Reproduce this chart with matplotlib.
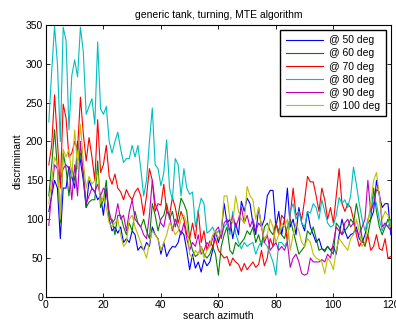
import numpy as np
import matplotlib
matplotlib.use('Agg')
import matplotlib.pyplot as plt

plt.rcParams['font.family'] = ['Liberation Sans', 'DejaVu Sans']

azimuth = np.arange(1, 121)

deg50 = [110, 130, 150, 140, 75, 140, 140, 168, 155, 140, 200, 175, 150, 115, 150, 140, 135, 125, 130, 105,
         140, 100, 85, 90, 82, 90, 70, 75, 70, 85, 80, 60, 65, 60, 70, 65, 90, 80, 75, 55,
         70, 52, 60, 65, 64, 70, 85, 80, 60, 35, 55, 37, 45, 32, 48, 40, 45, 60, 85, 70,
         85, 120, 95, 100, 75, 95, 80, 123, 110, 127, 120, 95, 80, 115, 90, 100, 130, 137, 137, 90,
         110, 80, 100, 140, 90, 100, 80, 115, 95, 85, 110, 90, 80, 70, 75, 62, 60, 65, 60, 65,
         55, 80, 100, 85, 75, 80, 82, 90, 75, 70, 80, 95, 100, 110, 150, 130, 115, 120, 120, 80]
deg60 = [130, 170, 215, 165, 95, 185, 165, 130, 165, 150, 175, 185, 160, 115, 122, 125, 125, 175, 115, 125,
         150, 100, 100, 80, 105, 105, 90, 80, 95, 85, 110, 95, 90, 100, 85, 75, 120, 105, 85, 100,
         105, 120, 100, 110, 90, 105, 127, 120, 110, 75, 60, 52, 55, 65, 55, 50, 55, 65, 55, 28,
         65, 80, 90, 60, 55, 70, 65, 70, 75, 85, 80, 90, 70, 80, 65, 90, 95, 85, 80, 95,
         85, 80, 75, 90, 100, 85, 70, 55, 60, 65, 85, 80, 90, 75, 60, 62, 58, 65, 60, 55,
         95, 90, 80, 85, 90, 100, 95, 120, 100, 75, 65, 80, 100, 140, 110, 90, 80, 90, 100, 90]
deg70 = [170, 195, 260, 200, 140, 248, 230, 180, 185, 200, 190, 257, 210, 175, 205, 180, 150, 228, 160, 170,
         195, 155, 145, 158, 140, 135, 125, 138, 130, 125, 135, 140, 130, 105, 130, 165, 150, 110, 120, 118,
         145, 110, 105, 128, 115, 95, 110, 100, 80, 75, 95, 75, 112, 70, 85, 60, 72, 65, 75, 60,
         55, 50, 52, 40, 50, 45, 42, 33, 43, 35, 40, 45, 38, 42, 60, 40, 50, 75, 65, 95,
         80, 105, 100, 70, 105, 140, 105, 110, 100, 125, 155, 148, 148, 130, 110, 140, 125, 100, 115, 95,
         130, 165, 120, 110, 120, 115, 100, 80, 65, 72, 68, 80, 60, 65, 80, 62, 60, 75, 50, 52]
deg80 = [225, 290, 348, 300, 200, 347, 330, 215, 285, 305, 283, 347, 315, 235, 245, 255, 222, 328, 242, 235,
         245, 200, 185, 200, 212, 190, 173, 178, 178, 195, 180, 195, 165, 130, 150, 200, 243, 170, 165, 143,
         160, 202, 140, 125, 178, 170, 130, 165, 140, 132, 135, 90, 110, 127, 120, 82, 85, 90, 80, 85,
         78, 90, 95, 80, 110, 82, 70, 62, 70, 65, 68, 70, 55, 65, 72, 70, 65, 55, 45, 28,
         70, 70, 65, 72, 110, 120, 100, 110, 95, 90, 110, 108, 120, 115, 100, 125, 110, 95, 90, 92,
         105, 128, 120, 125, 115, 130, 167, 145, 120, 100, 85, 100, 110, 130, 120, 100, 85, 95, 90, 100]
deg90 = [92, 135, 170, 165, 150, 165, 170, 165, 125, 170, 130, 200, 155, 120, 130, 140, 135, 145, 130, 140,
         135, 110, 95, 100, 120, 100, 105, 85, 110, 125, 100, 95, 90, 80, 75, 105, 150, 120, 110, 95,
         90, 110, 105, 85, 100, 90, 80, 95, 75, 60, 70, 65, 80, 55, 60, 70, 65, 75, 85, 90,
         75, 95, 100, 85, 105, 90, 100, 115, 95, 105, 90, 100, 85, 95, 90, 70, 80, 60, 65, 70,
         60, 65, 60, 70, 38, 50, 55, 45, 30, 28, 30, 50, 45, 45, 45, 48, 45, 55, 50, 70,
         90, 85, 80, 95, 100, 90, 95, 85, 80, 90, 100, 150, 110, 120, 138, 135, 90, 95, 90, 85]
deg100 = [120, 150, 180, 170, 100, 190, 180, 190, 155, 215, 165, 222, 175, 140, 155, 145, 150, 160, 120, 130,
          115, 95, 90, 95, 100, 80, 65, 70, 100, 105, 90, 80, 70, 60, 50, 70, 85, 80, 75, 60,
          70, 80, 95, 90, 80, 85, 100, 105, 95, 55, 50, 60, 55, 65, 50, 60, 65, 80, 85, 75,
          85, 130, 130, 100, 95, 130, 110, 100, 95, 142, 130, 125, 100, 115, 90, 75, 80, 100, 90, 70,
          80, 95, 90, 100, 60, 80, 95, 85, 70, 65, 75, 70, 55, 50, 48, 45, 30, 50, 45, 35,
          60, 75, 70, 65, 60, 75, 80, 100, 85, 65, 70, 95, 120, 150, 160, 130, 100, 110, 105, 90]

series = [deg50, deg60, deg70, deg80, deg90, deg100]
labels = ['@ 50 deg', '@ 60 deg', '@ 70 deg', '@ 80 deg', '@ 90 deg', '@ 100 deg']
colors = ['#0000ff', '#008000', '#ff0000', '#00bfbf', '#bf00bf', '#bfbf00']

fig = plt.figure(figsize=(3.96, 3.27), dpi=100)
ax = fig.add_axes([0.116, 0.092, 0.871, 0.832])
for vals, lab, col in zip(series, labels, colors):
    ax.plot(azimuth, vals, color=col, lw=0.8, label=lab)

ax.set_xlim(0, 120)
ax.set_ylim(0, 350)
ax.set_xticks(range(0, 121, 20))
ax.set_yticks(range(0, 351, 50))
ax.tick_params(direction='in', top=True, right=True, labelsize=7.5, length=3, width=0.6, pad=2)
for s in ax.spines.values():
    s.set_linewidth(0.8)
ax.set_title('generic tank, turning, MTE algorithm', fontsize=7.5, pad=5)
ax.set_xlabel('search azimuth', fontsize=7.5, labelpad=1)
ax.set_ylabel('discriminant', fontsize=7.5, labelpad=2)

leg = ax.legend(loc='upper right', fontsize=7.5, fancybox=False, framealpha=1,
                edgecolor='black', handlelength=3.6, labelspacing=0.3,
                borderaxespad=0.5, handletextpad=0.6, borderpad=0.5)
leg.get_frame().set_linewidth(1.0)

fig.savefig('out.png', dpi=100)
